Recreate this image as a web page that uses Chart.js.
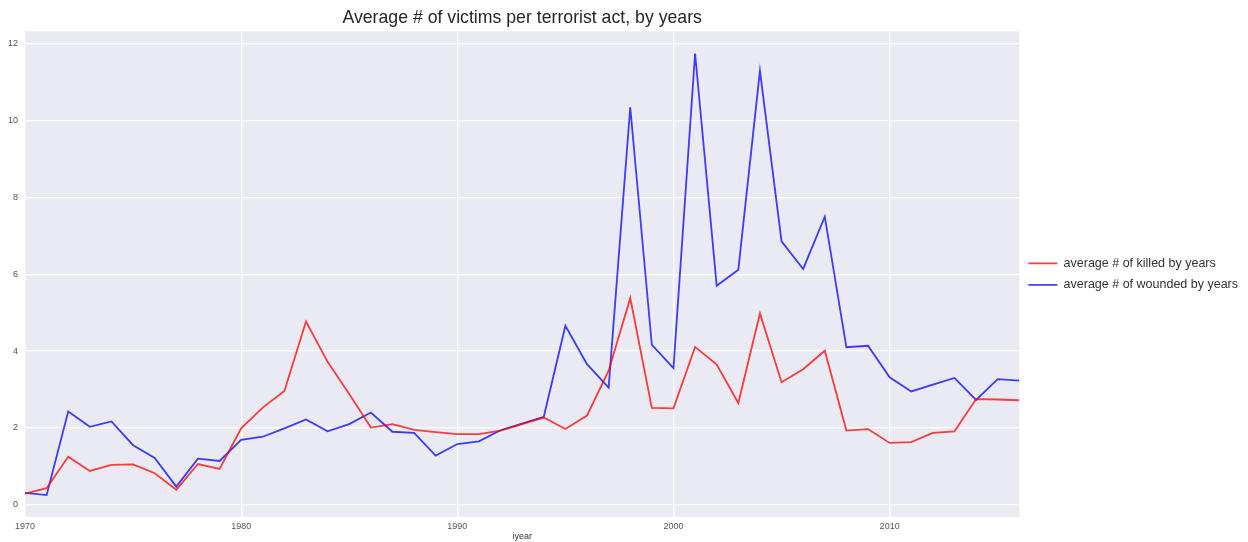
<!DOCTYPE html>
<html lang="en">
<head>
  <meta charset="UTF-8">
  <title>Average # of victims per terrorist act, by years</title>
  <script src="https://cdn.jsdelivr.net/npm/chart.js"></script>
  <style>
    body {
      margin: 0;
      background: #fff;
    }
    #wrap {
      width: 1248px;
      height: 542px;
    }
  </style>
</head>
<body>
  <div id="wrap">
    <canvas id="victimsChart" width="1248" height="542"></canvas>
  </div>

<script>
// years in the data (1993 has no records)
const years = [
  1970, 1971, 1972, 1973, 1974, 1975, 1976, 1977, 1978, 1979,
  1980, 1981, 1982, 1983, 1984, 1985, 1986, 1987, 1988, 1989,
  1990, 1991, 1992, 1994, 1995, 1996, 1997, 1998, 1999,
  2000, 2001, 2002, 2003, 2004, 2005, 2006, 2007, 2008, 2009,
  2010, 2011, 2012, 2013, 2014, 2015, 2016
];

// average # of killed by years
const killed = [
  0.29, 0.43, 1.25, 0.88, 1.04, 1.05, 0.82, 0.39, 1.06, 0.93,
  1.99, 2.53, 2.96, 4.77, 3.72, 2.88, 2.01, 2.10, 1.95, 1.89,
  1.84, 1.84, 1.93, 2.27, 1.97, 2.32, 3.49, 5.38, 2.52,
  2.51, 4.11, 3.65, 2.65, 4.98, 3.19, 3.53, 4.01, 1.93, 1.97,
  1.61, 1.63, 1.87, 1.91, 2.75, 2.74, 2.72
];

// average # of wounded by years
const wounded = [
  0.31, 0.25, 2.43, 2.03, 2.17, 1.55, 1.22, 0.47, 1.20, 1.14,
  1.69, 1.77, 1.99, 2.22, 1.91, 2.10, 2.40, 1.90, 1.87, 1.28,
  1.58, 1.65, 1.94, 2.29, 4.66, 3.66, 3.05, 10.35, 4.16,
  3.56, 11.75, 5.70, 6.12, 11.30, 6.86, 6.14, 7.50, 4.10, 4.14,
  3.32, 2.95, 3.13, 3.30, 2.73, 3.27, 3.23
];

const xTicks = [1970, 1980, 1990, 2000, 2010];
const yTicks = [0, 2, 4, 6, 8, 10, 12];

const FONT = "'Liberation Sans', Arial, sans-serif";

// seaborn-like grey plot background
const plotBackground = {
  id: 'plotBackground',
  beforeDraw(chart) {
    const { ctx, chartArea: a } = chart;
    ctx.save();
    ctx.fillStyle = '#eaeaf2';
    ctx.fillRect(a.left, a.top, a.right - a.left, a.bottom - a.top);
    ctx.restore();
  }
};

function serie(values) {
  return values.map((v, i) => ({ x: years[i], y: v }));
}

new Chart(document.getElementById('victimsChart'), {
  type: 'line',
  data: {
    datasets: [{
      label: 'average # of killed by years',
      data: serie(killed),
      borderColor: 'rgba(255,0,0,0.75)',
      backgroundColor: 'rgba(255,0,0,0.75)',
      borderWidth: 1.8,
      pointRadius: 0,
      tension: 0
    }, {
      label: 'average # of wounded by years',
      data: serie(wounded),
      borderColor: 'rgba(0,0,255,0.75)',
      backgroundColor: 'rgba(0,0,255,0.75)',
      borderWidth: 1.8,
      pointRadius: 0,
      tension: 0
    }]
  },
  options: {
    responsive: false,
    animation: false,
    layout: { padding: 0 },
    scales: {
      x: {
        type: 'linear',
        min: 1970,
        max: 2016,
        afterFit(scale) { scale.height = 25; },
        afterBuildTicks(scale) { scale.ticks = xTicks.map(v => ({ value: v })); },
        ticks: {
          callback: v => String(v),
          font: { family: FONT, size: 9 },
          color: '#555',
          padding: 4,
          maxRotation: 0,
          autoSkip: false
        },
        grid: { color: '#ffffff', lineWidth: 1.3, drawTicks: false },
        border: { display: false },
        title: {
          display: true,
          text: 'iyear',
          font: { family: FONT, size: 9 },
          color: '#333',
          padding: { top: 0, bottom: 0 }
        }
      },
      y: {
        min: -0.32,
        max: 12.33,
        afterFit(scale) { scale.width = 25; },
        afterBuildTicks(scale) { scale.ticks = yTicks.map(v => ({ value: v })); },
        ticks: {
          callback: v => String(v),
          font: { family: FONT, size: 9 },
          color: '#555',
          padding: 7
        },
        grid: { color: '#ffffff', lineWidth: 1.3, drawTicks: false },
        border: { display: false }
      }
    },
    plugins: {
      title: {
        display: true,
        fullSize: false,
        text: 'Average # of victims per terrorist act, by years',
        font: { family: FONT, size: 17.7, weight: 'normal' },
        color: '#262626',
        padding: { top: 7, bottom: 3 }
      },
      legend: {
        position: 'right',
        align: 'center',
        fullSize: false,
        labels: {
          usePointStyle: true,
          pointStyle: 'line',
          pointStyleWidth: 29,
          font: { family: FONT, size: 12.5 },
          color: '#333',
          padding: 9
        }
      },
      tooltip: { enabled: false }
    }
  },
  plugins: [plotBackground]
});
</script>
</body>
</html>
